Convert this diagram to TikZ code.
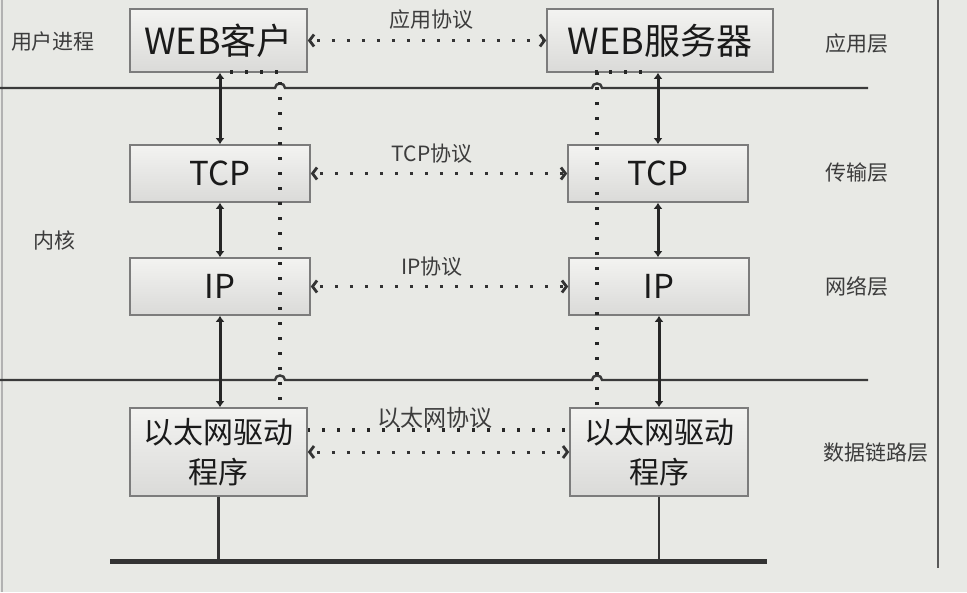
\documentclass[tikz,border=0pt]{standalone}
\usepackage{fontspec}
\setmainfont{Noto Sans CJK SC}
\usetikzlibrary{arrows.meta}
\definecolor{bgc}{HTML}{E8E9E5}
\definecolor{linec}{HTML}{3A3A3A}
\definecolor{boxline}{HTML}{7C7C7C}
\definecolor{boxtop}{HTML}{F3F3F1}
\definecolor{boxbot}{HTML}{DADAD8}
\definecolor{txtc}{HTML}{1A1A1A}
\definecolor{lblc}{HTML}{3C3C3C}
\begin{document}
\begin{tikzpicture}[x=1pt,y=-1pt,
  box/.style={draw=boxline, line width=1.6pt, top color=boxtop, bottom color=boxbot,
    inner sep=0pt, text=txtc, align=center},
  bigtxt/.style={font=\fontsize{36}{40}\selectfont},
  midtxt/.style={font=\fontsize{33}{38}\selectfont},
  ethtxt/.style={font=\fontsize{30}{40}\selectfont},
  lbl/.style={font=\fontsize{21}{24}\selectfont, text=lblc, inner sep=0pt},
  sep/.style={draw=linec, line width=2.4pt},
  vline/.style={draw=black!85, line width=3pt, {Latex[length=6pt,width=9pt]}-{Latex[length=6pt,width=9pt]}},
  plain/.style={draw=black!80, line width=2.6pt},
  proto/.style={draw=black!80, line width=3pt, dash pattern=on 3pt off 12pt, dash phase=-6pt,
    {Straight Barb[length=4.5pt,width=12pt,line width=2.8pt]}-{Straight Barb[length=4.5pt,width=12pt,line width=2.8pt]}},
  flow/.style={draw=black!85, line width=3.4pt, dash pattern=on 3.4pt off 11.6pt},
]
% background and bounding box
\fill[bgc] (0,0) rectangle (967,592);
\useasboundingbox (0,0) rectangle (967,592);
\draw[black!30, line width=1.2pt] (2,0) -- (2,592);

% separator lines with hops
\draw[sep] (0,88) -- (275,88) .. controls (275,82) and (285,82) .. (285,88)
  -- (592,88) .. controls (592,82) and (602,82) .. (602,88) -- (868,88);
\draw[sep] (0,380) -- (275,380) .. controls (275,374) and (285,374) .. (285,380)
  -- (592,380) .. controls (592,374) and (602,374) .. (602,380) -- (868,380);
\draw[draw=black!65, line width=2pt] (938,0) -- (938,568);

% boxes (upper)
\node[box, bigtxt, minimum width=177pt, minimum height=63pt] (webc) at (218.5,40.5) {WEB客户};
\node[box, bigtxt, minimum width=226pt, minimum height=63pt] (webs) at (660,40.5) {WEB服务器};
\node[box, midtxt, minimum width=180pt, minimum height=57pt] (tcpc) at (220,173.5) {TCP};
\node[box, midtxt, minimum width=180pt, minimum height=57pt] (tcps) at (658,173.5) {TCP};
\node[box, midtxt, minimum width=180pt, minimum height=57pt] (ipc) at (220,286.5) {IP};
\node[box, midtxt, minimum width=180pt, minimum height=57pt] (ips) at (659,286.5) {IP};

% data flow path (dotted)
\coordinate (f1) at (230,72);
\coordinate (f2) at (280,72);
\coordinate (f3) at (280,430);
\coordinate (f4) at (597,430);
\coordinate (f5) at (597,72);
\coordinate (f6) at (650,72);
\draw[flow] (f1) -- (f2) -- (f3) -- (f4) -- (f5) -- (f6);

% ethernet boxes (drawn over the flow path)
\node[box, ethtxt, minimum width=177pt, minimum height=88pt] (ethc) at (218.5,452) {以太网驱动\\程序};
\node[box, ethtxt, minimum width=178pt, minimum height=88pt] (eths) at (659,452) {以太网驱动\\程序};

% bus
\coordinate (busL) at (110,561);
\coordinate (busR) at (767,561);
\draw[draw=black!80, line width=5pt] (busL) -- (busR);
\draw[plain] (ethc.south) -- (ethc.south |- busL);
\draw[plain] (eths.south) -- (eths.south |- busL);

% vertical arrows
\draw[vline] (tcpc.north |- webc.south) -- (tcpc.north);
\draw[vline] (tcpc.south) -- (ipc.north);
\draw[vline] (ipc.south) -- (ipc.south |- ethc.north);
\draw[vline] (tcps.north |- webs.south) -- (tcps.north);
\draw[vline] (tcps.south) -- (tcps.south |- ips.north);
\draw[vline] (ips.south) -- (ips.south |- eths.north);

% protocol arrows
\draw[proto] (webc.east) -- (webs.west);
\draw[proto] (tcpc.east) -- (tcps.west);
\draw[proto] (ipc.east) -- (ips.west);
\draw[proto] (ethc.east) -- (eths.west);

% labels
\node[lbl] (l1) at (431,20) {应用协议};
\node[lbl] (l2) at (432,154) {TCP协议};
\node[lbl] (l3) at (432,267) {IP协议};
\node[lbl, font=\fontsize{23}{26}\selectfont] (l4) at (435,418) {以太网协议};
\node[lbl] (u1) at (53,42) {用户进程};
\node[lbl] (u2) at (54,240) {内核};
\node[lbl] (r1) at (857,44) {应用层};
\node[lbl] (r2) at (857,173) {传输层};
\node[lbl] (r3) at (857,286) {网络层};
\node[lbl] (r4) at (876,453) {数据链路层};
\end{tikzpicture}
\end{document}
